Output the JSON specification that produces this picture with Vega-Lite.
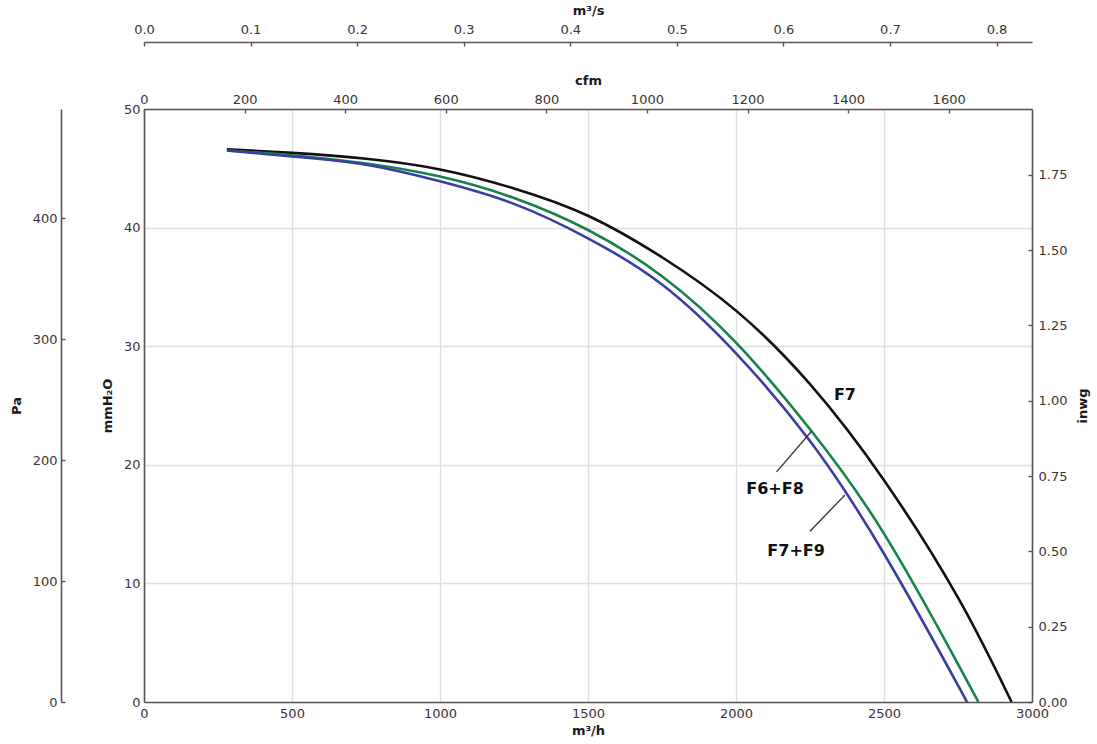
{
  "$schema": "https://vega.github.io/schema/vega-lite/v6.json",
  "width": 888,
  "height": 593,
  "autosize": {"type": "none"},
  "padding": {"left": 144, "top": 109, "right": 65, "bottom": 42},
  "background": "white",
  "config": {
    "view": {"stroke": null},
    "font": "DejaVu Sans",
    "axis": {
      "labelFont": "DejaVu Sans",
      "labelFontSize": 13,
      "labelColor": "#3a3336",
      "titleFont": "DejaVu Sans",
      "titleFontSize": 13,
      "titleFontWeight": "bold",
      "titleColor": "#1a1a1a",
      "domainColor": "#5c5558",
      "domainWidth": 1.6,
      "tickColor": "#5c5558",
      "tickWidth": 1.4,
      "gridColor": "#dedede",
      "gridWidth": 1.3
    }
  },
  "datasets": {
    "curves": [
      {"series": "F7", "Q": 280, "P": 46.6},
      {"series": "F7", "Q": 500, "P": 46.3},
      {"series": "F7", "Q": 750, "P": 45.8},
      {"series": "F7", "Q": 1000, "P": 44.9},
      {"series": "F7", "Q": 1250, "P": 43.3},
      {"series": "F7", "Q": 1500, "P": 41.0},
      {"series": "F7", "Q": 1750, "P": 37.5},
      {"series": "F7", "Q": 2000, "P": 33.0},
      {"series": "F7", "Q": 2250, "P": 26.8},
      {"series": "F7", "Q": 2500, "P": 18.7},
      {"series": "F7", "Q": 2750, "P": 8.8},
      {"series": "F7", "Q": 2931, "P": 0},
      {"series": "F6+F8", "Q": 280, "P": 46.5},
      {"series": "F6+F8", "Q": 500, "P": 46.1},
      {"series": "F6+F8", "Q": 750, "P": 45.4},
      {"series": "F6+F8", "Q": 1000, "P": 44.3},
      {"series": "F6+F8", "Q": 1250, "P": 42.5},
      {"series": "F6+F8", "Q": 1500, "P": 39.8},
      {"series": "F6+F8", "Q": 1750, "P": 35.9},
      {"series": "F6+F8", "Q": 2000, "P": 30.3},
      {"series": "F6+F8", "Q": 2250, "P": 23.0},
      {"series": "F6+F8", "Q": 2500, "P": 14.2},
      {"series": "F6+F8", "Q": 2750, "P": 3.2},
      {"series": "F6+F8", "Q": 2819, "P": 0},
      {"series": "F7+F9", "Q": 280, "P": 46.5},
      {"series": "F7+F9", "Q": 500, "P": 46.0},
      {"series": "F7+F9", "Q": 750, "P": 45.3},
      {"series": "F7+F9", "Q": 1000, "P": 43.9},
      {"series": "F7+F9", "Q": 1250, "P": 42.0},
      {"series": "F7+F9", "Q": 1500, "P": 39.1},
      {"series": "F7+F9", "Q": 1750, "P": 35.2},
      {"series": "F7+F9", "Q": 2000, "P": 29.4},
      {"series": "F7+F9", "Q": 2250, "P": 22.0},
      {"series": "F7+F9", "Q": 2500, "P": 12.5},
      {"series": "F7+F9", "Q": 2750, "P": 1.4},
      {"series": "F7+F9", "Q": 2779, "P": 0}
    ],
    "leaders": [
      {"Q": 2137, "P": 19.4, "Q2": 2256, "P2": 22.85},
      {"Q": 2250, "P": 14.4, "Q2": 2368, "P2": 17.45}
    ],
    "labels": [
      {"text": "F7", "Q": 2368, "P": 25.9},
      {"text": "F6+F8", "Q": 2132, "P": 18.0},
      {"text": "F7+F9", "Q": 2203, "P": 12.7}
    ],
    "cfmRange": [{"cfm": 0}, {"cfm": 1765.7}],
    "m3sRange": [{"m3s": 0}, {"m3s": 0.8333}],
    "paRange": [{"pa": 0}, {"pa": 490.33}],
    "inwgRange": [{"inwg": 0}, {"inwg": 1.9685}]
  },
  "layer": [
    {
      "layer": [
        {
          "data": {"name": "curves"},
          "mark": {"type": "line", "strokeWidth": 2.6, "interpolate": "natural", "clip": true},
          "encoding": {
            "x": {
              "field": "Q", "type": "quantitative",
              "scale": {"domain": [0, 3000], "nice": false},
              "axis": {
                "orient": "bottom", "title": "m³/h", "format": "d",
                "values": [0, 500, 1000, 1500, 2000, 2500, 3000],
                "grid": true, "ticks": false, "labelPadding": 5,
                "labelFlush": false, "titlePadding": 4
              }
            },
            "y": {
              "field": "P", "type": "quantitative",
              "scale": {"domain": [0, 50], "nice": false},
              "axis": {
                "orient": "left", "title": "mmH₂O",
                "values": [0, 10, 20, 30, 40, 50],
                "grid": true, "ticks": false, "labelPadding": 4,
                "labelFlush": false, "titlePadding": 9
              }
            },
            "color": {
              "field": "series", "type": "nominal",
              "scale": {"domain": ["F7", "F6+F8", "F7+F9"], "range": ["#111111", "#17834a", "#3a3ea2"]},
              "legend": null
            }
          }
        },
        {
          "data": {"name": "leaders"},
          "mark": {"type": "rule", "color": "#333333", "strokeWidth": 1.3},
          "encoding": {
            "x": {"field": "Q", "type": "quantitative"},
            "y": {"field": "P", "type": "quantitative"},
            "x2": {"field": "Q2"},
            "y2": {"field": "P2"}
          }
        },
        {
          "data": {"name": "labels"},
          "mark": {"type": "text", "font": "DejaVu Sans", "fontSize": 16, "fontWeight": "bold", "color": "#111111", "align": "center", "baseline": "middle"},
          "encoding": {
            "x": {"field": "Q", "type": "quantitative"},
            "y": {"field": "P", "type": "quantitative"},
            "text": {"field": "text"}
          }
        }
      ]
    },
    {
      "data": {"name": "cfmRange"},
      "mark": {"type": "rule", "opacity": 0},
      "encoding": {
        "x": {
          "field": "cfm", "type": "quantitative",
          "scale": {"domain": [0, 1765.7], "nice": false},
          "axis": {
            "orient": "top", "title": "cfm", "format": "d",
            "values": [0, 200, 400, 600, 800, 1000, 1200, 1400, 1600],
            "grid": false, "tickSize": -4, "labelPadding": 7,
            "labelFlush": false, "titlePadding": 6
          }
        }
      }
    },
    {
      "data": {"name": "m3sRange"},
      "mark": {"type": "rule", "opacity": 0},
      "encoding": {
        "x": {
          "field": "m3s", "type": "quantitative",
          "scale": {"domain": [0, 0.8333], "nice": false},
          "axis": {
            "orient": "top", "title": "m³/s", "offset": 67, "format": ".1f",
            "values": [0, 0.1, 0.2, 0.3, 0.4, 0.5, 0.6, 0.7, 0.8],
            "grid": false, "tickSize": -4, "labelPadding": 10,
            "labelFlush": false, "titlePadding": 6
          }
        }
      }
    },
    {
      "data": {"name": "paRange"},
      "mark": {"type": "rule", "opacity": 0},
      "encoding": {
        "y": {
          "field": "pa", "type": "quantitative",
          "scale": {"domain": [0, 490.33], "nice": false},
          "axis": {
            "orient": "left", "title": "Pa", "offset": 83, "format": "d",
            "values": [0, 100, 200, 300, 400],
            "grid": false, "tickSize": -4, "labelPadding": 8,
            "labelFlush": false, "titlePadding": 9
          }
        }
      }
    },
    {
      "data": {"name": "inwgRange"},
      "mark": {"type": "rule", "opacity": 0},
      "encoding": {
        "y": {
          "field": "inwg", "type": "quantitative",
          "scale": {"domain": [0, 1.9685], "nice": false},
          "axis": {
            "orient": "right", "title": "inwg", "format": ".2f",
            "values": [0, 0.25, 0.5, 0.75, 1.0, 1.25, 1.5, 1.75],
            "grid": false, "tickSize": -4, "labelPadding": 10,
            "labelFlush": false, "titlePadding": 23, "titleAngle": -90
          }
        }
      }
    }
  ],
  "resolve": {"scale": {"x": "independent", "y": "independent"}}
}
